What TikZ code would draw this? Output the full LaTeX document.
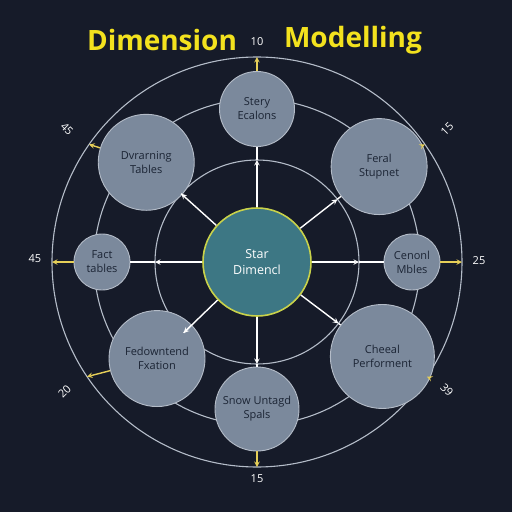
\documentclass[tikz,border=0pt]{standalone}
\usepackage{fontspec}
\setmainfont{Open Sans}
\usetikzlibrary{arrows}
\definecolor{bgnavy}{HTML}{161B29}
\definecolor{ringgray}{HTML}{B4BCC8}
\definecolor{nodegray}{HTML}{7B899C}
\definecolor{inkdark}{HTML}{1B2434}
\definecolor{hubteal}{HTML}{3D7784}
\definecolor{hubrim}{HTML}{C9D24A}
\definecolor{titleyellow}{HTML}{F3E21E}
\definecolor{tipyellow}{HTML}{E6CF58}
\tikzstyle{ring} = [draw=ringgray, line width=1.1pt]
\tikzstyle{satellite} = [circle, draw=ringgray, line width=0.9pt, fill=nodegray, text=inkdark, align=center, inner sep=0pt, font=\fontsize{11}{14}\selectfont]
\tikzstyle{hub} = [circle, draw=hubrim, line width=1.6pt, fill=hubteal, text=white, align=center, minimum size=108pt, font=\fontsize{12.5}{16}\selectfont]
\tikzstyle{spoke} = [white, line width=1.4pt, ->, >=stealth]
\tikzstyle{spokeline} = [white, line width=1.4pt]
\tikzstyle{outlet} = [tipyellow, line width=1.4pt, ->, >=stealth]
\tikzstyle{ticklabel} = [text=white, inner sep=0.5pt, font=\fontsize{11}{13}\selectfont]

\begin{document}
\begin{tikzpicture}[x=1pt, y=1pt]
\fill [bgnavy] (-257,-250) rectangle (255,262);
\useasboundingbox (-257,-250) rectangle (255,262);
% title
\node (titleleft) [text=titleyellow, font=\fontsize{28}{32}\selectfont\bfseries] at (-95,222) {Dimension};
\node (titleright) [text=titleyellow, font=\fontsize{28}{32}\selectfont\bfseries] at (96,222) {Modelling};
% rings
\draw [ring] (0,0) circle (102);
\draw [ring] (0,0) circle (163);
\draw [ring] (0,0) circle (205);
% nodes
\node (stars) [hub] at (0,0) {Star\\Dimencl};
\node (stery) [satellite, minimum size=75pt] at (90:153) {Stery\\Ecalons};
\node (dvrarning) [satellite, minimum size=96pt] at (138:149) {Dvrarning\\Tables};
\node (feral) [satellite, minimum size=96pt] at (38:155) {Feral\\Stupnet};
\node (fact) [satellite, minimum size=56pt] at (180:155) {Fact\\tables};
\node (cenonl) [satellite, minimum size=56pt] at (0:155) {Cenonl\\Mbles};
\node (fedown) [satellite, minimum size=96pt] at (224:139) {Fedowntend\\Fxation};
\node (cheeal) [satellite, minimum size=104pt] at (323:157) {Cheeal\\Performent};
\node (snow) [satellite, minimum size=84pt] at (270:147) {Snow Untagd\\Spals};
% inner ring points
\coordinate (in-stery) at (90:102);
\coordinate (in-dvrarning) at (138:102);
\coordinate (in-feral) at (38:102);
\coordinate (in-fact) at (180:102);
\coordinate (in-cenonl) at (0:102);
\coordinate (in-fedown) at (224:102);
\coordinate (in-cheeal) at (323:102);
\coordinate (in-snow) at (270:102);
% spokes
\draw [spoke] (stars) -- (in-stery);
\draw [spokeline] (in-stery) -- (stery);
\draw [spoke] (stars) -- (in-dvrarning);
\draw [spokeline] (in-dvrarning) -- (dvrarning);
\draw [spoke] (stars) -- (in-feral);
\draw [spokeline] (in-feral) -- (feral);
\draw [spoke] (stars) -- (in-fact);
\draw [spokeline] (in-fact) -- (fact);
\draw [spoke] (stars) -- (in-cenonl);
\draw [spokeline] (in-cenonl) -- (cenonl);
\draw [spoke] (stars) -- (in-fedown);
\draw [spokeline] (in-fedown) -- (fedown);
\draw [spoke] (stars) -- (in-cheeal);
\draw [spokeline] (in-cheeal) -- (cheeal);
\draw [spoke] (stars) -- (in-snow);
\draw [spokeline] (in-snow) -- (snow);
% outer ring points
\coordinate (out-stery) at (90:205);
\coordinate (out-dvrarning) at (145:205);
\coordinate (out-feral) at (35:205);
\coordinate (out-fact) at (180:205);
\coordinate (out-cenonl) at (0:205);
\coordinate (out-fedown) at (214:205);
\coordinate (out-cheeal) at (326:205);
\coordinate (out-snow) at (270:205);
\draw [outlet] (stery) -- (out-stery);
\draw [outlet] (dvrarning) -- (out-dvrarning);
\draw [outlet] (feral) -- (out-feral);
\draw [outlet] (fact) -- (out-fact);
\draw [outlet] (cenonl) -- (out-cenonl);
\draw [outlet] (fedown) -- (out-fedown);
\draw [outlet] (cheeal) -- (out-cheeal);
\draw [outlet] (snow) -- (out-snow);
% ring labels
\node (lbl-top) [ticklabel] at (0,220) {10};
\node (lbl-tr) [ticklabel, rotate=45] at (35:232) {15};
\node (lbl-right) [ticklabel] at (222,1) {25};
\node (lbl-br) [ticklabel, rotate=-45] at (326:229) {39};
\node (lbl-bottom) [ticklabel] at (0,-217) {15};
\node (lbl-bl) [ticklabel, rotate=45] at (214:232) {20};
\node (lbl-left) [ticklabel] at (-222,3) {45};
\node (lbl-tl) [ticklabel, rotate=-45] at (145:232) {45};
\end{tikzpicture}
\end{document}
